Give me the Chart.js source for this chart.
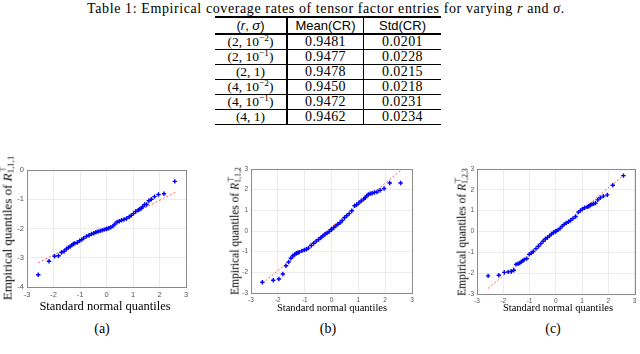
<!DOCTYPE html>
<html>
<head>
<meta charset="utf-8">
<script src="https://cdn.jsdelivr.net/npm/chart.js@4.4.0/dist/chart.umd.min.js"></script>
<style>
  html, body { margin: 0; padding: 0; background: #fff; }
  body { width: 640px; height: 354px; position: relative; overflow: hidden;
         font-family: "Liberation Serif", serif; color: #000; }
  .lbl { position: absolute; white-space: nowrap; transform: translate(-50%, -50%); line-height: 1; }
  .rot { transform: translate(-50%, -50%) rotate(-90deg); }
  .ss { display: inline-block; vertical-align: -0.3em; font-size: 0.68em; line-height: 0.95; text-align: left; }
  .ss span { display: block; }
  canvas { position: absolute; }
  table { position: absolute; left: 215px; top: 16px; border-collapse: collapse; }
  td { padding: 0; height: 14px; line-height: 14px; text-align: center; font-size: 14px;
       letter-spacing: 0.4px; border-bottom: 1px solid #000; white-space: nowrap; }
  tr.head td { height: 15px; font-family: "Liberation Sans", sans-serif; font-size: 13px; letter-spacing: 0;
               border-top: 2px solid #000; border-bottom: 2px solid #000; }
  td.c1 { width: 71px; border-right: 2px solid #000; letter-spacing: 0; font-size: 13.5px; }
  td.c2 { width: 75px; border-right: 1px solid #000; }
  td.c3 { width: 77px; }
  sup { font-size: 0.68em; line-height: 0; vertical-align: 0.55em; }
</style>
</head>
<body>
<div class="lbl" id="caption" style="left:326px; top:9px; font-size:14px; letter-spacing:0.6px;">Table 1: Empirical coverage rates of tensor factor entries for varying <i>r</i> and <i>σ</i>.</div>
<table id="tbl"></table>

<canvas id="qqA" width="195" height="140" style="left:0px; top:160px;"></canvas>
<canvas id="qqB" width="205" height="145" style="left:215px; top:160px;"></canvas>
<canvas id="qqC" width="200" height="145" style="left:440px; top:160px;"></canvas>

<div class="lbl rot" style="left:7px; top:228px; font-size:13px;">Empirical quantiles of <i>R</i><span class="ss"><span>⊤</span><span>1,1,1</span></span></div>
<div class="lbl rot" style="left:235px; top:231px; font-size:11.5px;">Empirical quantiles of <i>R</i><span class="ss"><span>⊤</span><span>1,1,2</span></span></div>
<div class="lbl rot" style="left:462px; top:232px; font-size:11.5px;">Empirical quantiles of <i>R</i><span class="ss"><span>⊤</span><span>1,2,3</span></span></div>

<div class="lbl" style="left:105px; top:306px; font-size:12.5px;">Standard normal quantiles</div>
<div class="lbl" style="left:332px; top:308px; font-size:10.5px;">Standard normal quantiles</div>
<div class="lbl" style="left:558px; top:308px; font-size:10.5px;">Standard normal quantiles</div>

<div class="lbl" style="left:102px; top:329px; font-size:14px;">(a)</div>
<div class="lbl" style="left:328px; top:329px; font-size:14px;">(b)</div>
<div class="lbl" style="left:553px; top:329px; font-size:14px;">(c)</div>

<script>
// table 1
const settings = ['(2, 10<sup>−2</sup>)', '(2, 10<sup>−1</sup>)', '(2, 1)', '(4, 10<sup>−2</sup>)', '(4, 10<sup>−1</sup>)', '(4, 1)'];
const meanCR = ['0.9481', '0.9477', '0.9478', '0.9450', '0.9472', '0.9462'];
const stdCR = ['0.0201', '0.0228', '0.0215', '0.0218', '0.0231', '0.0234'];

// qq plots: standard normal quantiles (x) shared by the three panels
const quantiles = [-2.576, -2.170, -1.960, -1.812, -1.695, -1.598, -1.514, -1.440, -1.372, -1.311, -1.254, -1.200,
  -1.103, -1.015, -0.935, -0.860, -0.755, -0.659, -0.568, -0.482, -0.399, -0.319, -0.240, -0.164, -0.088, -0.0125,
  0.0125, 0.088, 0.164, 0.240, 0.319, 0.399, 0.482, 0.568, 0.659, 0.755, 0.860, 0.935, 1.015, 1.103,
  1.200, 1.254, 1.311, 1.372, 1.440, 1.514, 1.598, 1.695, 1.812, 1.960, 2.170, 2.576];

const empA = [-3.58, -3.12, -2.95, -2.93, -2.82, -2.78, -2.70, -2.65, -2.62, -2.57, -2.53, -2.51,
  -2.48, -2.42, -2.38, -2.33, -2.27, -2.23, -2.19, -2.16, -2.13, -2.10, -2.08, -2.06, -2.04, -2.02,
  -2.01, -1.99, -1.96, -1.92, -1.85, -1.78, -1.75, -1.72, -1.69, -1.66, -1.60, -1.55, -1.49, -1.42,
  -1.37, -1.34, -1.31, -1.25, -1.18, -1.18, -1.05, -1.00, -0.91, -0.84, -0.81, -0.39];

const empB = [-2.48, -2.38, -2.32, -2.08, -1.68, -1.50, -1.32, -1.20, -1.14, -1.08, -1.05, -1.02,
  -0.96, -0.92, -0.88, -0.83, -0.70, -0.59, -0.49, -0.41, -0.33, -0.24, -0.16, -0.10, -0.03, 0.06,
  0.09, 0.17, 0.25, 0.33, 0.40, 0.50, 0.64, 0.74, 0.84, 0.98, 1.22, 1.27, 1.36, 1.45,
  1.55, 1.61, 1.70, 1.77, 1.80, 1.83, 1.86, 1.89, 1.97, 2.06, 2.32, 2.32];

const empC = [-2.13, -2.10, -1.96, -1.94, -1.92, -1.86, -1.58, -1.55, -1.51, -1.45, -1.40, -1.35,
  -1.30, -1.10, -1.03, -0.96, -0.82, -0.71, -0.58, -0.47, -0.36, -0.29, -0.21, -0.12, -0.05, 0.00,
  0.03, 0.08, 0.15, 0.26, 0.34, 0.41, 0.47, 0.54, 0.63, 0.72, 0.93, 1.00, 1.08, 1.14,
  1.18, 1.21, 1.26, 1.30, 1.33, 1.36, 1.52, 1.62, 1.70, 1.76, 2.22, 2.68];

// red reference line end points (at the smallest and largest quantile)
const refA = [-3.17, -0.77];
const refB = [-2.53, 2.92];
const refC = [-2.73, 2.70];

const xTicks = [-3, -2, -1, 0, 1, 2, 3];
const yTicksA = [-4, -3, -2, -1, 0];
const yTicksBC = [-3, -2, -1, 0, 1, 2, 3];

document.getElementById('tbl').innerHTML =
  '<tr class="head"><td class="c1">(<i>r</i>, <i>σ</i>)</td><td class="c2">Mean(CR)</td><td class="c3">Std(CR)</td></tr>' +
  settings.map((s, i) => `<tr><td class="c1">${s}</td><td class="c2">${meanCR[i]}</td><td class="c3">${stdCR[i]}</td></tr>`).join('');

const frame = {
  id: 'frame',
  beforeDatasetsDraw(chart) {
    const { ctx, chartArea: a } = chart;
    ctx.save();
    ctx.strokeStyle = '#8a8a8a';
    ctx.lineWidth = 1;
    ctx.strokeRect(Math.round(a.left) + 0.5, Math.round(a.top) + 0.5,
      Math.round(a.right - a.left), Math.round(a.bottom - a.top));
    ctx.restore();
  }
};

const makeQQ = (id, emp, ref, yTicks, g) => {
  const ends = [quantiles[0], quantiles[quantiles.length - 1]];
  new Chart(document.getElementById(id), {
    type: 'scatter',
    data: {
      datasets: [{
        data: quantiles.map((q, i) => ({ x: q, y: emp[i] })),
        pointStyle: 'cross',
        pointRadius: 2.2,
        borderWidth: 1.4,
        borderColor: '#0000ff',
        backgroundColor: '#0000ff',
        order: 0
      }, {
        type: 'line',
        data: ends.map((q, i) => ({ x: q, y: ref[i] })),
        borderColor: 'rgba(255, 40, 40, 0.75)',
        borderWidth: 1,
        borderDash: [2, 2],
        pointRadius: 0,
        order: 1
      }]
    },
    options: {
      responsive: false,
      animation: false,
      devicePixelRatio: 1,
      layout: { padding: { top: g.top, right: g.right, left: 0, bottom: 0 } },
      plugins: { legend: { display: false }, tooltip: { enabled: false } },
      scales: {
        x: {
          type: 'linear',
          min: xTicks[0], max: xTicks[xTicks.length - 1],
          afterBuildTicks: s => { s.ticks = xTicks.map(v => ({ value: v })); },
          afterFit: s => { s.height = g.xh; },
          grid: { color: '#ececec', drawTicks: false },
          border: { color: '#8a8a8a' },
          ticks: { padding: 3, color: '#555', font: { family: 'Liberation Sans', size: g.fs } }
        },
        y: {
          type: 'linear',
          min: yTicks[0], max: yTicks[yTicks.length - 1],
          afterBuildTicks: s => { s.ticks = yTicks.map(v => ({ value: v })); },
          afterFit: s => { s.width = g.yw; },
          grid: { color: '#ececec', drawTicks: false },
          border: { color: '#8a8a8a' },
          ticks: { padding: 3, color: '#555', font: { family: 'Liberation Sans', size: g.fs } }
        }
      }
    },
    plugins: [frame]
  });
};

makeQQ('qqA', empA, refA, yTicksA, { top: 10, right: 9, xh: 13, yw: 27, fs: 7.5 });
makeQQ('qqB', empB, refB, yTicksBC, { top: 9, right: 8, xh: 12, yw: 36, fs: 6.5 });
makeQQ('qqC', empC, refC, yTicksBC, { top: 9, right: 2, xh: 11, yw: 37, fs: 6.5 });
</script>
</body>
</html>
